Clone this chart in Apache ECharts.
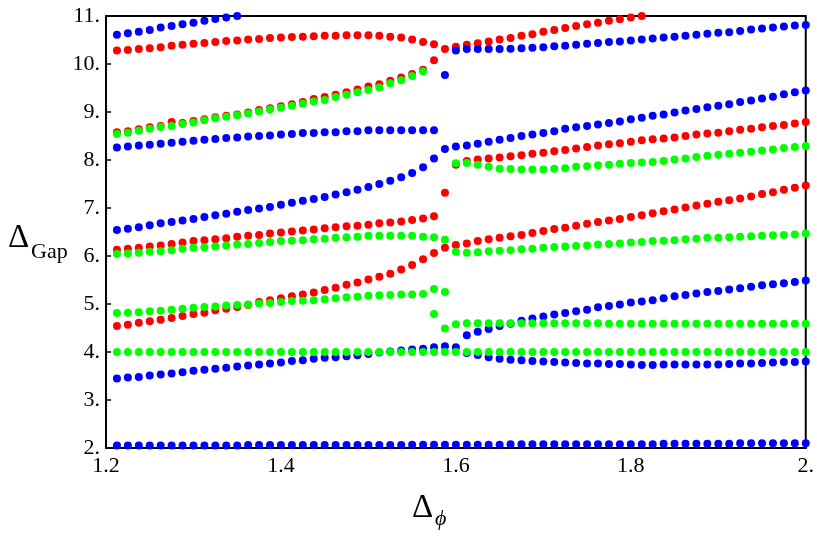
<!DOCTYPE html>
<html>
<head>
<meta charset="utf-8">
<script src="https://cdn.jsdelivr.net/npm/echarts@6/dist/echarts.min.js"></script>
<style>
html,body{margin:0;padding:0;background:#fff;}
#chart{width:817px;height:536px;}
</style>
</head>
<body>
<div id="chart"></div>
<script>
// x grid of the sampled points
const xValues = [
  1.2125,1.225,1.2375,1.25,1.2625,1.275,1.2875,1.3,
  1.3125,1.325,1.3375,1.35,1.3625,1.375,1.3875,1.4,
  1.4125,1.425,1.4375,1.45,1.4625,1.475,1.4875,1.5,
  1.5125,1.525,1.5375,1.55,1.5625,1.575,1.5875,1.6,
  1.6125,1.625,1.6375,1.65,1.6625,1.675,1.6875,1.7,
  1.7125,1.725,1.7375,1.75,1.7625,1.775,1.7875,1.8,
  1.8125,1.825,1.8375,1.85,1.8625,1.875,1.8875,1.9,
  1.9125,1.925,1.9375,1.95,1.9625,1.975,1.9875,2.0
];

const xTickLabels = ['1.2','1.4','1.6','1.8','2.'];
const yTickLabels = ['2.','3.','4.','5.','6.','7.','8.','9.','10.','11.'];

// ---- blue bands ----
const blueBand1 = [ // starts at point 1
  2.05,2.05,2.05,2.05,2.05,2.05,2.05,2.05,2.05,2.05,2.05,2.05,
  2.06,2.06,2.06,2.06,2.06,2.06,2.06,2.06,2.06,2.06,2.06,2.06,
  2.06,2.06,2.06,2.07,2.07,2.07,2.07,2.07,2.07,2.07,2.07,2.07,
  2.08,2.08,2.08,2.08,2.08,2.08,2.08,2.08,2.08,2.08,2.08,2.08,
  2.08,2.08,2.09,2.09,2.09,2.09,2.09,2.09,2.09,2.10,2.10,2.10,2.10,2.10,2.10,2.10
];
const blueBand2 = [ // starts at point 1
  3.45,3.47,3.48,3.51,3.53,3.55,3.58,3.61,3.63,3.65,3.67,3.70,3.72,3.74,3.76,3.78,
  3.81,3.83,3.86,3.88,3.89,3.91,3.93,3.96,3.99,4.01,4.03,4.05,4.07,4.10,4.12,4.10
];
const blueBand2Low = [ // starts at point 33
  3.98,3.94,3.89,3.86,3.84,3.83,3.81,3.80,3.79,3.78,3.77,3.76,3.76,3.75,3.75,3.74,
  3.73,3.73,3.74,3.74,3.74,3.74,3.74,3.74,3.75,3.76,3.76,3.77,3.78,3.79,3.79,3.80
];
const blueBand2Up = [ // starts at point 33
  4.35,4.42,4.48,4.54,4.59,4.65,4.70,4.74,4.78,4.81,4.85,4.88,4.93,4.96,4.99,5.03,
  5.05,5.08,5.12,5.16,5.19,5.22,5.25,5.27,5.30,5.33,5.36,5.39,5.41,5.43,5.46,5.49
];
const blueBand3 = [ // starts at point 1
  6.54,6.57,6.60,6.64,6.68,6.71,6.74,6.77,6.81,6.85,6.88,6.92,6.96,6.99,7.02,7.07,
  7.11,7.15,7.19,7.23,7.28,7.33,7.38,7.44,
  7.50,7.57,7.64,7.73,7.85,8.03,8.23,8.28,8.30,8.34,8.38,8.42,8.46,8.50,8.53,8.56,
  8.60,8.65,8.68,8.71,8.74,8.77,8.80,8.85,8.88,
  8.92,8.95,8.99,9.03,9.06,9.10,9.13,9.16,9.21,9.24,9.28,9.32,9.37,9.41,9.45
];
const blueBand4 = [ // starts at point 1
  8.26,8.28,8.30,8.32,8.34,8.36,8.38,8.40,8.42,8.44,8.46,8.47,8.49,8.50,8.51,8.53,
  8.54,8.56,8.56,8.58,8.58,8.60,8.60,8.62,
  8.62,8.62,8.62,8.62,8.62,8.62,
  9.77,
  10.28,10.31,10.31,10.31,10.31,10.32,10.33,10.34,10.35,10.37,10.38,10.40,10.42,10.44,10.46,10.47,10.49,10.51,
  10.53,10.55,10.57,10.59,10.61,10.63,10.65,10.66,10.69,10.72,10.74,10.76,10.78,10.80,10.81
];
const blueBand5 = [ // starts at point 1
  10.61,10.64,10.67,10.71,10.76,10.79,10.83,10.86,10.90,10.94,10.97,11.00
];

// ---- red bands ----
const redBand1 = [ // starts at point 1
  4.54,4.57,4.61,4.64,4.67,4.71,4.75,4.79,4.82,4.87,4.90,4.94,4.98,5.04,5.08,5.12,
  5.16,5.20,5.24,5.29,5.34,5.40,5.45,5.51,
  5.57,5.63,5.72,5.81,5.93,6.06,6.17,6.23,6.26,6.31,6.35,6.38,6.41,6.44,6.48,6.52,
  6.56,6.59,6.63,6.67,6.71,6.74,6.77,6.81,6.85,
  6.89,6.93,6.97,7.01,7.05,7.09,7.13,7.16,7.20,7.24,7.29,7.33,7.38,7.42,7.47
];
const redBand2 = [ // starts at point 1
  6.13,6.15,6.17,6.20,6.22,6.25,6.28,6.31,6.33,6.35,6.37,6.40,6.42,6.44,6.47,6.49,
  6.51,6.53,6.55,6.58,6.60,6.62,6.63,6.65,
  6.68,6.70,6.72,6.75,6.78,6.83,
  7.32,
  7.90,7.98,8.01,8.03,8.05,8.08,8.10,8.13,8.15,8.18,8.21,8.24,8.27,8.30,8.33,8.35,8.38,8.41,
  8.43,8.45,8.47,8.50,8.53,8.55,8.57,8.60,8.63,8.65,8.68,8.71,8.73,8.76,8.79
];
const redBand3 = [ // starts at point 1
  8.58,8.60,8.64,8.68,8.71,8.79,8.77,8.81,8.85,8.89,8.92,8.95,8.99,9.04,9.08,9.12,
  9.16,9.21,9.27,9.31,9.36,9.41,9.47,9.53,9.58,9.65,9.72,9.79,9.88,10.08
];
const redBand4 = [ // starts at point 1
  10.28,10.29,10.31,10.33,10.35,10.38,10.40,10.42,10.44,10.46,10.48,10.49,10.51,10.52,10.54,10.55,
  10.56,10.57,10.58,10.59,10.59,10.60,10.60,10.60,
  10.59,10.57,10.55,10.51,10.46,10.41,10.31,10.36,10.40,10.43,10.47,10.51,10.54,10.59,10.62,10.67,
  10.71,10.75,10.79,10.83,10.86,10.90,10.93,10.97,11.00
];

// ---- green bands ----
const greenBand1 = [ // starts at point 1
  4.00,4.00,4.00,4.00,4.00,4.00,4.00,4.00,4.00,4.00,4.00,4.00,4.00,4.00,4.00,4.00,
  4.00,4.00,4.00,4.00,4.00,4.00,4.00,4.00,4.00,4.00,4.00,4.00,4.00,4.00,4.00,4.00,
  4.00,4.00,4.00,4.00,4.00,4.00,4.00,4.00,4.00,4.00,4.00,4.00,4.00,4.00,4.00,4.00,
  4.00,4.00,4.00,4.00,4.00,4.00,4.00,4.00,4.00,4.00,4.00,4.00,4.00,4.00,4.00,4.00
];
const greenBand2 = [ // starts at point 1
  4.81,4.82,4.83,4.85,4.86,4.88,4.90,4.92,4.94,4.95,4.97,4.98,4.99,5.01,5.02,5.04,
  5.06,5.07,5.08,5.10,5.12,5.14,5.15,5.17,5.18,5.19,5.20,5.20,5.21,5.31,5.25
];
const greenBand3 = [ // starts at point 30
  4.79,4.49,4.58,
  4.60,4.60,4.60,4.60,4.60,4.60,4.60,4.60,4.60,4.60,4.60,4.60,4.60,
  4.59,4.59,4.59,4.59,4.59,4.59,4.59,4.59,4.59,4.59,4.59,4.59,4.59,4.59,4.59,4.59,4.59,4.59,4.59
];
const greenBand4 = [ // starts at point 1
  6.04,6.05,6.07,6.09,6.10,6.12,6.15,6.17,6.18,6.20,6.22,6.24,6.25,6.27,6.29,6.31,
  6.32,6.33,6.35,6.36,6.38,6.39,6.40,6.42,
  6.42,6.42,6.42,6.42,6.40,6.39,6.34,
  6.09,6.07,6.08,6.10,6.11,6.12,6.14,6.15,6.17,6.19,6.20,6.21,6.22,6.24,6.25,6.26,6.28,6.29,
  6.31,6.32,6.33,6.35,6.36,6.38,6.38,6.39,6.40,6.41,6.42,6.43,6.44,6.45,6.47
];
const greenBand5 = [ // starts at point 1
  8.54,8.57,8.61,8.65,8.69,8.71,8.75,8.78,8.83,8.87,8.90,8.93,8.97,9.01,9.05,9.09,
  9.13,9.17,9.22,9.25,9.31,9.36,9.41,9.46,9.51,9.60,9.66,9.75,9.85
];
const greenBand6 = [ // starts at point 32
  7.93,7.94,7.90,7.86,7.82,7.81,7.80,7.80,7.80,7.82,7.83,7.86,7.87,7.89,7.90,7.92,7.94,7.95,
  7.96,7.98,8.01,8.03,8.06,8.09,8.11,8.13,8.15,8.17,8.20,8.22,8.25,8.27,8.29
];

function pairs(values, firstPoint) {
  return values.map((v, i) => [xValues[firstPoint - 1 + i], v]);
}

const redData = [].concat(
  pairs(redBand1, 1), pairs(redBand2, 1), pairs(redBand3, 1), pairs(redBand4, 1)
);
const blueData = [].concat(
  pairs(blueBand1, 1), pairs(blueBand2, 1), pairs(blueBand2Low, 33), pairs(blueBand2Up, 33),
  pairs(blueBand3, 1), pairs(blueBand4, 1), pairs(blueBand5, 1)
);
const greenData = [].concat(
  pairs(greenBand1, 1), pairs(greenBand2, 1), pairs(greenBand3, 30),
  pairs(greenBand4, 1), pairs(greenBand5, 1), pairs(greenBand6, 32)
);

const FONT = "'Liberation Serif', 'Times New Roman', serif";

const chart = echarts.init(document.getElementById('chart'), null, {renderer: 'canvas'});
const dot = {type: 'scatter', symbol: 'circle', symbolSize: 8, clip: false, animation: false};

chart.setOption({
  animation: false,
  backgroundColor: '#ffffff',
  grid: {left: 106, right: 11, top: 16, bottom: 88, show: true, borderColor: '#000', borderWidth: 2, backgroundColor: 'transparent'},
  xAxis: {
    type: 'value', min: 1.2, max: 2.0, interval: 0.2,
    axisLine: {show: true, lineStyle: {color: '#000', width: 2}},
    axisTick: {show: true, inside: true, length: 5, lineStyle: {color: '#000', width: 1.5}},
    splitLine: {show: false},
    axisLabel: {
      color: '#000', fontFamily: FONT, fontSize: 22, margin: 7,
      formatter: v => xTickLabels[Math.round((v - 1.2) / 0.2)]
    }
  },
  yAxis: {
    type: 'value', min: 2, max: 11, interval: 1,
    axisLine: {show: true, lineStyle: {color: '#000', width: 2}},
    axisTick: {show: true, inside: true, length: 5, lineStyle: {color: '#000', width: 1.5}},
    splitLine: {show: false},
    axisLabel: {
      color: '#000', fontFamily: FONT, fontSize: 22, margin: 6,
      formatter: v => yTickLabels[Math.round(v - 2)]
    }
  },
  graphic: [
    {type: 'text', left: 8, top: 222, style: {text: 'Δ', font: '33px ' + FONT, fill: '#000'}},
    {type: 'text', left: 31, top: 241, style: {text: 'Gap', font: '22px ' + FONT, fill: '#000'}},
    {type: 'text', left: 412, top: 492, style: {text: 'Δ', font: '33px ' + FONT, fill: '#000'}},
    {type: 'text', left: 435, top: 508, style: {text: 'ϕ', font: 'italic 22px ' + FONT, fill: '#000'}}
  ],
  series: [
    Object.assign({}, dot, {name: 'red', data: redData, itemStyle: {color: '#ff0000', opacity: 1}}),
    Object.assign({}, dot, {name: 'blue', data: blueData, itemStyle: {color: '#0000ff', opacity: 1}}),
    Object.assign({}, dot, {name: 'green', data: greenData, itemStyle: {color: '#00ff00', opacity: 1}})
  ]
});
</script>
</body>
</html>
